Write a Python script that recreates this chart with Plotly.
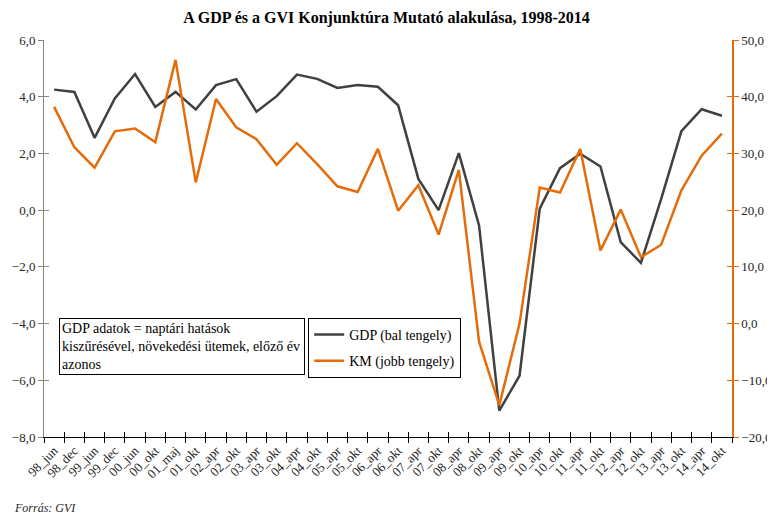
import plotly.graph_objects as go

categories = ["98_jun", "98_dec", "99_jun", "99_dec", "00_jun", "00_okt", "01_maj", "01_okt",
              "02_apr", "02_okt", "03_apr", "03_okt", "04_apr", "04_okt", "05_apr", "05_okt",
              "06_apr", "06_okt", "07_apr", "07_okt", "08_apr", "08_okt", "09_apr", "09_okt",
              "10_apr", "10_okt", "11_apr", "11_okt", "12_apr", "12_okt", "13_apr", "13_okt",
              "14_apr", "14_okt"]

gdp = [4.25, 4.17, 2.55, 3.94, 4.8, 3.64, 4.17, 3.55,
       4.41, 4.62, 3.47, 4.02, 4.78, 4.63, 4.31, 4.41,
       4.35, 3.7, 1.1, 0.0, 2.01, -0.54, -7.07, -5.84,
       0.05, 1.48, 1.99, 1.54, -1.13, -1.86, 0.4, 2.79,
       3.56, 3.33]

km = [38.2, 31.1, 27.5, 33.9, 34.4, 32.0, 46.5, 24.9,
      39.6, 34.6, 32.5, 28.0, 31.8, 28.1, 24.2, 23.2,
      30.8, 19.9, 24.4, 15.7, 27.1, -3.2, -14.4, 0.0,
      24.0, 23.1, 30.8, 12.9, 20.1, 11.7, 13.9, 23.5,
      29.6, 33.5]

left_ticks = [-8, -6, -4, -2, 0, 2, 4, 6]
right_ticks = [-20, -10, 0, 10, 20, 30, 40, 50]

title = "A GDP és a GVI Konjunktúra Mutató alakulása, 1998-2014"
note = "GDP adatok = naptári hatások<br>kiszűrésével, növekedési ütemek, előző év<br>azonos"
source = "Forrás: GVI"

FONT = "Liberation Serif, DejaVu Serif, serif"
GRAY = "#404040"
ORANGE = "#E46C0A"

fig = go.Figure()
fig.add_trace(go.Scatter(x=categories, y=gdp, mode="lines", name="GDP (bal tengely)",
                         legendgroup="g1",
                         line=dict(color=GRAY, width=2.5), xaxis="x", yaxis="y"))
fig.add_trace(go.Scatter(x=categories, y=km, mode="lines", name="KM (jobb tengely)",
                         legendgroup="g2",
                         line=dict(color=ORANGE, width=2.5), xaxis="x", yaxis="y2"))
# helper traces to show inner halves of crossing tick marks
fig.add_trace(go.Scatter(x=categories, y=[None] * len(categories), xaxis="x2", yaxis="y3",
                         showlegend=False, hoverinfo="skip"))
fig.add_trace(go.Scatter(x=categories, y=[None] * len(categories), xaxis="x2", yaxis="y4",
                         showlegend=False, hoverinfo="skip"))

tickfont = dict(family=FONT, size=13, color="#262626")

# the page body has an 8px default margin, so the figure is 8px smaller than the window
fig.update_layout(
    width=767, height=508,
    margin=dict(l=36, r=43, t=32, b=79),
    paper_bgcolor="white", plot_bgcolor="white",
    separators=", ",
    font=dict(family=FONT, size=13, color="#262626"),
    title=dict(text="<b>" + title + "</b>", x=0.4935, xanchor="center", y=0.982, yanchor="middle",
               font=dict(family=FONT, size=16, color="black")),
    xaxis=dict(type="category", categoryorder="array", categoryarray=categories,
               range=[-0.5, len(categories) - 0.5], tickson="boundaries",
               ticks="outside", ticklen=5, tickcolor="black", tickwidth=1,
               showline=True, linecolor="black", linewidth=1, showgrid=False,
               tickangle=-45, tickfont=dict(family=FONT, size=13, color="#262626"),
               zeroline=False, anchor="y", automargin=False),
    xaxis2=dict(type="category", categoryorder="array", categoryarray=categories,
                range=[-0.5, len(categories) - 0.5], tickson="boundaries",
                overlaying="x", ticks="inside", ticklen=5, tickcolor="black", tickwidth=1,
                showticklabels=False, showline=False, showgrid=False, zeroline=False,
                anchor="y", side="bottom"),
    yaxis=dict(range=[-8, 6], tickvals=left_ticks, tickformat=".1f",
               ticks="outside", ticklen=5, tickcolor="#868686", tickwidth=1,
               showline=True, linecolor="#868686", linewidth=1, showgrid=False,
               zeroline=False, tickfont=tickfont, automargin=False),
    yaxis2=dict(range=[-20, 50], tickvals=right_ticks, tickformat=".1f",
                overlaying="y", side="right", anchor="x",
                ticks="outside", ticklen=5, tickcolor=ORANGE, tickwidth=1,
                showline=True, linecolor=ORANGE, linewidth=1.5, showgrid=False,
                zeroline=False, tickfont=tickfont, automargin=False),
    yaxis3=dict(range=[-8, 6], tickvals=left_ticks, overlaying="y", side="left", anchor="x2",
                ticks="inside", ticklen=5, tickcolor="#868686", tickwidth=1,
                showticklabels=False, showline=False, showgrid=False, zeroline=False),
    yaxis4=dict(range=[-20, 50], tickvals=right_ticks, overlaying="y", side="right", anchor="x2",
                ticks="inside", ticklen=5, tickcolor=ORANGE, tickwidth=1,
                showticklabels=False, showline=False, showgrid=False, zeroline=False),
    showlegend=True,
    legend=dict(x=0.384, y=0.30, xanchor="left", yanchor="top",
                bordercolor="black", borderwidth=1, bgcolor="white",
                font=dict(family=FONT, size=14, color="black"),
                itemwidth=30, tracegroupgap=5),
)

fig.add_annotation(xref="paper", yref="paper", x=0.0218, y=0.30, xanchor="left", yanchor="top",
                   text=note, showarrow=False, align="left",
                   font=dict(family=FONT, size=14, color="black"),
                   bordercolor="black", borderwidth=1, borderpad=2, bgcolor="white",
                   width=240)
fig.add_annotation(xref="paper", yref="paper", x=-0.0465, y=-0.179, xanchor="left",
                   yanchor="middle", text="<i>" + source + "</i>", showarrow=False,
                   font=dict(family=FONT, size=12, color="#262626"))

fig.write_html("out.html")
